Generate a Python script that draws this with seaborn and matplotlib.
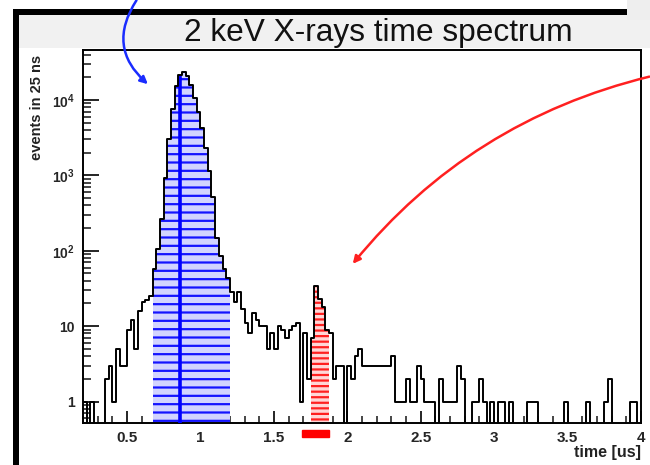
import numpy as np
import pandas as pd
import matplotlib
matplotlib.use("Agg")
import matplotlib.pyplot as plt
import seaborn as sns
from matplotlib.patches import FancyArrowPatch, Rectangle
from matplotlib.ticker import FixedLocator, FixedFormatter, MultipleLocator, LogLocator, NullFormatter

# binning: 25 ns bins starting at 0.2 us
t_start = 0.2
bin_width = 0.025

# counts per bin (region by region)
left_tail = [1, 0, 1, 0, 0, 0, 2, 3, 1, 5, 3, 3, 9, 12, 5, 16, 21, 22, 25]          # 0.200 - 0.650
main_peak = [57, 107, 261, 935, 3080, 7550, 15400, 21400, 23600, 21000, 15700,
             10500, 7000, 4200, 2300, 1150, 520, 150, 85, 58, 44]                    # 0.675 - 1.175 (blue)
mid_region = [28, 21, 28, 17, 11, 8, 15, 12, 10, 10, 5, 8, 5, 10, 9, 7, 9, 10,
              11, 1, 8, 2]                                                           # 1.200 - 1.725
second_peak = [7, 34, 23, 18, 9]                                                     # 1.750 - 1.850 (red)
after_peak = [8, 2, 3, 3, 0, 3, 2, 4, 5, 3, 3, 3, 3, 3, 3, 3, 3]                     # 1.875 - 2.275
tail_a = [4, 1, 1, 1, 2, 1, 1, 3, 2, 1, 1, 1, 0, 2, 1, 1, 1, 1, 3, 2, 0, 0, 1, 1,
          2, 1, 0, 1]                                                                # 2.300 - 2.975
tail_b = [0, 1, 1, 0, 1, 0, 0, 0, 0, 1, 1, 1, 0, 0, 0, 0, 0, 0, 0, 1, 0, 0, 0, 0,
          0, 1, 0, 0, 0, 0, 1, 2, 0, 0, 0, 0, 0, 1, 1, 0]                            # 3.000 - 3.975

blue_range = (0.675, 1.2)
red_range = (1.75, 1.875)
peak_mark = 0.86           # blue vertical marker
red_marker_span = (1.69, 1.875)

counts = np.array(left_tail + main_peak + mid_region + second_peak + after_peak + tail_a + tail_b, dtype=float)
n_bins = len(counts)
t_end = t_start + n_bins * bin_width
centers = t_start + bin_width * (np.arange(n_bins) + 0.5)
df = pd.DataFrame({'time': centers, 'events': counts})

W, H = 650, 465

sns.set_theme(style="white")
plt.rcParams['font.family'] = ['Liberation Sans', 'DejaVu Sans']
plt.rcParams['mathtext.default'] = 'regular'
plt.rcParams['hatch.linewidth'] = 1.6

fig = plt.figure(figsize=(W / 100, H / 100), dpi=100)
fig.patch.set_facecolor('white')


def px(x, y):
    return (x / W, 1 - y / H)


# slide background: light grey title band and borders
fig.add_artist(Rectangle(px(18, 48), (W - 18) / W, 33 / H, transform=fig.transFigure,
                         color='#f1f1f1', linewidth=0, zorder=0))
fig.add_artist(Rectangle(px(627, 20), (W - 627) / W, 20 / H, transform=fig.transFigure,
                         color='#eeeeee', linewidth=0, zorder=0))
fig.add_artist(Rectangle(px(12.5, H), 6.2 / W, (H - 9) / H, transform=fig.transFigure,
                         color='black', linewidth=0, zorder=1))
fig.add_artist(Rectangle(px(12.5, 15), (627 - 12.5) / W, 6 / H, transform=fig.transFigure,
                         color='black', linewidth=0, zorder=1))

ax = fig.add_axes([83 / W, 1 - 423 / H, (641 - 83) / W, (423 - 50) / H])


def region(lo, hi):
    sub = df[(df['time'] > lo) & (df['time'] < hi)]
    return sub, int(round((hi - lo) / bin_width))


# blue filled region
blue_df, nb = region(*blue_range)
sns.histplot(data=blue_df, x='time', weights='events', bins=nb, binrange=blue_range,
             element='bars', ax=ax, color='#d2d4ff', alpha=1, linewidth=0)
sns.histplot(data=blue_df, x='time', weights='events', bins=nb, binrange=blue_range,
             element='bars', ax=ax, facecolor='none', edgecolor='#1414ff', hatch='--',
             linewidth=0, alpha=1)

# red filled region
red_df, nr = region(*red_range)
sns.histplot(data=red_df, x='time', weights='events', bins=nr, binrange=red_range,
             element='bars', ax=ax, color='#ffd6d6', alpha=1, linewidth=0)
sns.histplot(data=red_df, x='time', weights='events', bins=nr, binrange=red_range,
             element='bars', ax=ax, facecolor='none', edgecolor='#ff2020', hatch='---',
             linewidth=0, alpha=1)

# mean marker in blue region
peak_idx = int((peak_mark - t_start) // bin_width)
ax.vlines(peak_mark, 0.3, counts[peak_idx], color='#0000ff', linewidth=2.6, zorder=3)

# full histogram outline
sns.histplot(data=df, x='time', weights='events', bins=n_bins, binrange=(t_start, t_end),
             element='step', fill=False, ax=ax, color='black', linewidth=1.4, zorder=4)

ax.set_yscale('log')
ax.set_xlim(0.2, 4.0)
ax.set_ylim(0.52, 46000)
ax.set_xlabel('')
ax.set_ylabel('')

# ROOT-like ticks: inside, left and bottom only
ax.xaxis.set_minor_locator(MultipleLocator(0.1))
ax.set_xticks([0.5, 1, 1.5, 2, 2.5, 3, 3.5, 4])
ax.set_xticklabels(['0.5', '1', '1.5', '2', '2.5', '3', '3.5', '4'])
ax.yaxis.set_major_locator(FixedLocator([1, 10, 100, 1000, 10000]))
ax.yaxis.set_major_formatter(FixedFormatter(['1', '10', '$10^{2}$', '$10^{3}$', '$10^{4}$']))
ax.yaxis.set_minor_locator(LogLocator(base=10, subs=np.arange(2, 10), numticks=20))
ax.yaxis.set_minor_formatter(NullFormatter())
ax.tick_params(axis='x', which='major', direction='in', length=9, width=1.2, pad=6,
               labelsize=11, bottom=True, top=False, color='black')
ax.tick_params(axis='x', which='minor', direction='in', length=5, width=1.2, bottom=True, top=False)
ax.tick_params(axis='y', which='major', direction='in', length=11.5, width=1.2, pad=6,
               labelsize=10, left=True, right=False, color='black')
ax.tick_params(axis='y', which='minor', direction='in', length=6, width=1.2, left=True, right=False)
for lab in ax.get_xticklabels() + ax.get_yticklabels():
    lab.set_fontweight('bold')
for sp in ax.spines.values():
    sp.set_color('black')
    sp.set_linewidth(1.4)

# red marker under the x axis
ax.add_patch(Rectangle((red_marker_span[0], -0.0375), red_marker_span[1] - red_marker_span[0], 0.019,
                       transform=ax.get_xaxis_transform(), color='#ff0000', clip_on=False))

# texts
fig.text(378 / W, 1 - 40.5 / H, '2 keV X-rays time spectrum', ha='center', va='baseline',
         fontsize=22.8, color='#111111')
fig.text(37 / W, 1 - 55 / H, 'events in 25 ns', rotation=90, ha='center', va='top',
         fontsize=10.5, fontweight='bold', color='#222222')
fig.text(641 / W, 1 - 452 / H, 'time [us]', ha='right', va='center', fontsize=11.5,
         fontweight='bold', color='#222222')

# annotation arrows
fig.add_artist(FancyArrowPatch(px(138, -2), px(150, 86), transform=fig.transFigure,
                               connectionstyle='arc3,rad=0.45', arrowstyle='-|>',
                               mutation_scale=11, color='#1a2cff', linewidth=1.8, zorder=5))
fig.add_artist(FancyArrowPatch(px(652, 76), px(351, 266), transform=fig.transFigure,
                               connectionstyle='arc3,rad=0.17', arrowstyle='-|>',
                               mutation_scale=11, color='#ff2020', linewidth=1.8, zorder=5))

fig.savefig('out.png', dpi=100)
